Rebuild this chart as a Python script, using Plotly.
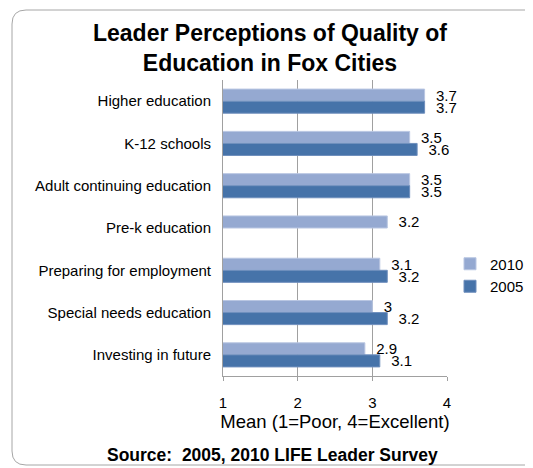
import plotly.graph_objects as go

categories = ["Higher education", "K-12 schools", "Adult continuing education",
              "Pre-k education", "Preparing for employment",
              "Special needs education", "Investing in future"]
values_2010 = [3.7, 3.5, 3.5, 3.2, 3.1, 3.0, 2.9]
values_2005 = [3.7, 3.6, 3.5, None, 3.2, 3.2, 3.1]
x_ticks = [1, 2, 3, 4]

# page has an 8px body margin, so the figure is 8px smaller and coordinates shift by 8
OFF = 8
W, H = 533 - OFF, 468 - OFF
L, R, T, B = 223 - OFF, 447 - OFF, 80 - OFF, 376 - OFF

def px(x):
    return (x - OFF - L) / (R - L)

def py(y):
    return (B - (y - OFF)) / (B - T)

NB = "\u00a0"
fig = go.Figure()
fig.add_trace(go.Bar(
    y=categories, x=values_2010, orientation="h", name="2010",
    marker=dict(color="#95a9d1", line=dict(color="#b9c6e2", width=1)),
    texttemplate=NB * 2 + "%{x}", textposition="outside", constraintext="none",
    textfont=dict(size=15, color="#000000"), cliponaxis=False,
))
fig.add_trace(go.Bar(
    y=categories, x=values_2005, orientation="h", name="2005",
    marker=dict(color="#4673a9", line=dict(color="#6f8fbd", width=1)),
    texttemplate=NB * 2 + "%{x}", textposition="outside", constraintext="none",
    textfont=dict(size=15, color="#000000"), cliponaxis=False,
))

# rounded chart border
x0, x1 = px(12), px(550)
y0, y1 = py(465), py(10)
rx, ry = 14 / (R - L), 14 / (B - T)
path = (f"M {x0},{y1-ry} Q {x0},{y1} {x0+rx},{y1} L {x1-rx},{y1} Q {x1},{y1} {x1},{y1-ry} "
        f"L {x1},{y0+ry} Q {x1},{y0} {x1-rx},{y0} L {x0+rx},{y0} Q {x0},{y0} {x0},{y0+ry} Z")
fig.add_shape(type="path", path=path, xref="paper", yref="paper",
              line=dict(color="#a6a6a6", width=1), layer="below")

fig.add_annotation(text="<b>Source:  2005, 2010 LIFE Leader Survey</b>",
                   xref="paper", yref="paper", x=px(272), y=py(455),
                   showarrow=False, font=dict(size=17.5, color="#000000"),
                   xanchor="center", yanchor="middle")

fig.update_layout(
    width=W, height=H,
    margin=dict(l=L, r=W - R, t=T, b=H - B, autoexpand=False),
    paper_bgcolor="white", plot_bgcolor="white",
    font=dict(family="Liberation Sans, Arial, sans-serif", size=15, color="#000000"),
    title=dict(text="<b>Leader Perceptions of Quality of<br>Education in Fox Cities</b>",
               x=(270 - OFF) / W, xanchor="center", y=1 - (41 - OFF) / H, yanchor="middle",
               font=dict(size=23, color="#000000")),
    barmode="group", bargap=0.43, bargroupgap=0,
    showlegend=True,
    legend=dict(x=px(450), y=py(275), xanchor="left", yanchor="middle",
                font=dict(size=15), traceorder="normal", itemwidth=30,
                bgcolor="rgba(0,0,0,0)"),
    xaxis=dict(range=[1, 4], tickvals=x_ticks, ticktext=[str(t) for t in x_ticks],
               showgrid=True, gridcolor="#a0a0a0", gridwidth=1,
               showline=True, linecolor="#a0a0a0", linewidth=1,
               ticks="outside", ticklen=4, tickcolor="#a0a0a0",
               ticklabelstandoff=9, tickfont=dict(size=15),
               title=dict(text="Mean (1=Poor, 4=Excellent)", font=dict(size=18.5), standoff=0),
               zeroline=False, fixedrange=True),
    yaxis=dict(autorange="reversed", showline=True, linecolor="#a0a0a0", linewidth=1,
               ticks="", ticklabelstandoff=8, tickfont=dict(size=15), fixedrange=True),
)

fig.write_html("out.html")
